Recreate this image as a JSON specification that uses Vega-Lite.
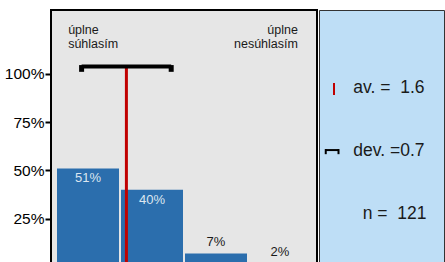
{
  "$schema": "https://vega.github.io/schema/vega-lite/v6.json",
  "padding": {"left": 0, "top": 9, "right": 0, "bottom": 0},
  "spacing": 0,
  "config": {"font": "Liberation Sans", "concat": {"spacing": 0}},
  "datasets": {
    "bars": [
      {"cat": 1, "pct": 0.51, "label": "51%"},
      {"cat": 2, "pct": 0.40, "label": "40%"},
      {"cat": 3, "pct": 0.07, "label": "7%"},
      {"cat": 4, "pct": 0.02, "label": "2%"}
    ],
    "stats": [{"mean": 1.6, "sd": 0.7, "lo": 0.9, "hi": 2.3, "n": 121}],
    "legend": [
      {"key": "av", "text": "av. =\u00a0 1.6"},
      {"key": "dev", "text": "dev. =0.7"},
      {"key": "n", "text": "n =\u00a0 121"}
    ]
  },
  "hconcat": [
    {
      "width": 266,
      "height": 257,
      "view": {"fill": "#E6E6E6", "stroke": "black", "strokeWidth": 2},
      "encoding": {
        "x": {"type": "quantitative", "scale": {"domain": [0.5, 4.5], "nice": false, "zero": false}, "axis": null},
        "y": {"type": "quantitative", "scale": {"domain": [0, 1.33], "nice": false, "zero": false},
          "axis": {"values": [0.25, 0.5, 0.75, 1], "format": ".0%", "labelFontSize": 15.5, "labelColor": "black",
            "tickColor": "black", "tickWidth": 2, "tickSize": 6, "domain": false, "grid": false, "labelPadding": 1,
            "minExtent": 50, "maxExtent": 50, "title": null}}
      },
      "layer": [
        {
          "data": {"name": "bars"},
          "mark": {"type": "bar", "size": 62, "orient": "vertical", "color": "#2B6EAD"},
          "encoding": {"x": {"field": "cat"}, "y": {"field": "pct"}}
        },
        {
          "data": {"name": "bars"},
          "transform": [{"filter": "datum.pct > 0.2"}],
          "mark": {"type": "text", "fontSize": 13, "color": "#DCE6F0", "baseline": "middle", "dy": 10},
          "encoding": {"x": {"field": "cat"}, "y": {"field": "pct"}, "text": {"field": "label"}}
        },
        {
          "data": {"name": "bars"},
          "transform": [{"filter": "datum.pct <= 0.2"}],
          "mark": {"type": "text", "fontSize": 13, "color": "#1a1a1a", "baseline": "middle", "dy": -11},
          "encoding": {"x": {"field": "cat"}, "y": {"field": "pct"}, "text": {"field": "label"}}
        },
        {
          "data": {"name": "stats"},
          "mark": {"type": "rule", "color": "#C00000", "strokeWidth": 3},
          "encoding": {"x": {"field": "mean"}, "y": {"datum": 0}, "y2": {"datum": 1.03}}
        },
        {
          "data": {"name": "stats"},
          "mark": {"type": "rule", "color": "black", "strokeWidth": 4},
          "encoding": {"x": {"field": "lo"}, "x2": {"field": "hi"}, "y": {"datum": 1.037}}
        },
        {
          "data": {"name": "stats"},
          "mark": {"type": "rule", "color": "black", "strokeWidth": 5},
          "encoding": {"x": {"field": "lo"}, "y": {"datum": 1.045}, "y2": {"datum": 1.01}}
        },
        {
          "data": {"name": "stats"},
          "mark": {"type": "rule", "color": "black", "strokeWidth": 5},
          "encoding": {"x": {"field": "hi"}, "y": {"datum": 1.045}, "y2": {"datum": 1.01}}
        },
        {
          "data": {"name": "stats"},
          "mark": {"type": "text", "text": "úplne\nsúhlasím", "lineBreak": "\n", "align": "left", "baseline": "top", "fontSize": 12.5, "lineHeight": 14, "color": "#1a1a1a"},
          "encoding": {"x": {"datum": 0.69}, "y": {"datum": 1.255}}
        },
        {
          "data": {"name": "stats"},
          "mark": {"type": "text", "text": "úplne\nnesúhlasím", "lineBreak": "\n", "align": "right", "baseline": "top", "fontSize": 12.5, "lineHeight": 14, "color": "#1a1a1a"},
          "encoding": {"x": {"datum": 4.28}, "y": {"datum": 1.255}}
        }
      ]
    },
    {
      "width": 125,
      "height": 257,
      "view": {"fill": "#BEDEF6", "stroke": "#333333", "strokeWidth": 1},
      "encoding": {
        "x": {"type": "quantitative", "scale": {"domain": [0, 1], "nice": false}, "axis": null},
        "y": {"type": "quantitative", "scale": {"domain": [0, 1], "nice": false, "reverse": true}, "axis": null}
      },
      "layer": [
        {
          "data": {"name": "legend"},
          "transform": [{"filter": "datum.key == 'av'"}],
          "mark": {"type": "text", "align": "right", "baseline": "middle", "fontSize": 17.5, "color": "#1a1a1a"},
          "encoding": {"x": {"datum": 0.844}, "y": {"datum": 0.303}, "text": {"field": "text"}}
        },
        {
          "data": {"name": "legend"},
          "transform": [{"filter": "datum.key == 'dev'"}],
          "mark": {"type": "text", "align": "right", "baseline": "middle", "fontSize": 17.5, "color": "#1a1a1a"},
          "encoding": {"x": {"datum": 0.844}, "y": {"datum": 0.549}, "text": {"field": "text"}}
        },
        {
          "data": {"name": "legend"},
          "transform": [{"filter": "datum.key == 'n'"}],
          "mark": {"type": "text", "align": "right", "baseline": "middle", "fontSize": 17.5, "color": "#1a1a1a"},
          "encoding": {"x": {"datum": 0.86}, "y": {"datum": 0.794}, "text": {"field": "text"}}
        },
        {
          "data": {"name": "stats"},
          "mark": {"type": "rule", "color": "#C00000", "strokeWidth": 2},
          "encoding": {"x": {"datum": 0.12}, "y": {"datum": 0.284}, "y2": {"datum": 0.331}}
        },
        {
          "data": {"name": "stats"},
          "mark": {"type": "rule", "color": "black", "strokeWidth": 2},
          "encoding": {"x": {"datum": 0.05}, "x2": {"datum": 0.16}, "y": {"datum": 0.545}}
        },
        {
          "data": {"name": "stats"},
          "mark": {"type": "rule", "color": "black", "strokeWidth": 2},
          "encoding": {"x": {"datum": 0.054}, "y": {"datum": 0.541}, "y2": {"datum": 0.561}}
        },
        {
          "data": {"name": "stats"},
          "mark": {"type": "rule", "color": "black", "strokeWidth": 2},
          "encoding": {"x": {"datum": 0.156}, "y": {"datum": 0.541}, "y2": {"datum": 0.561}}
        }
      ]
    }
  ]
}
